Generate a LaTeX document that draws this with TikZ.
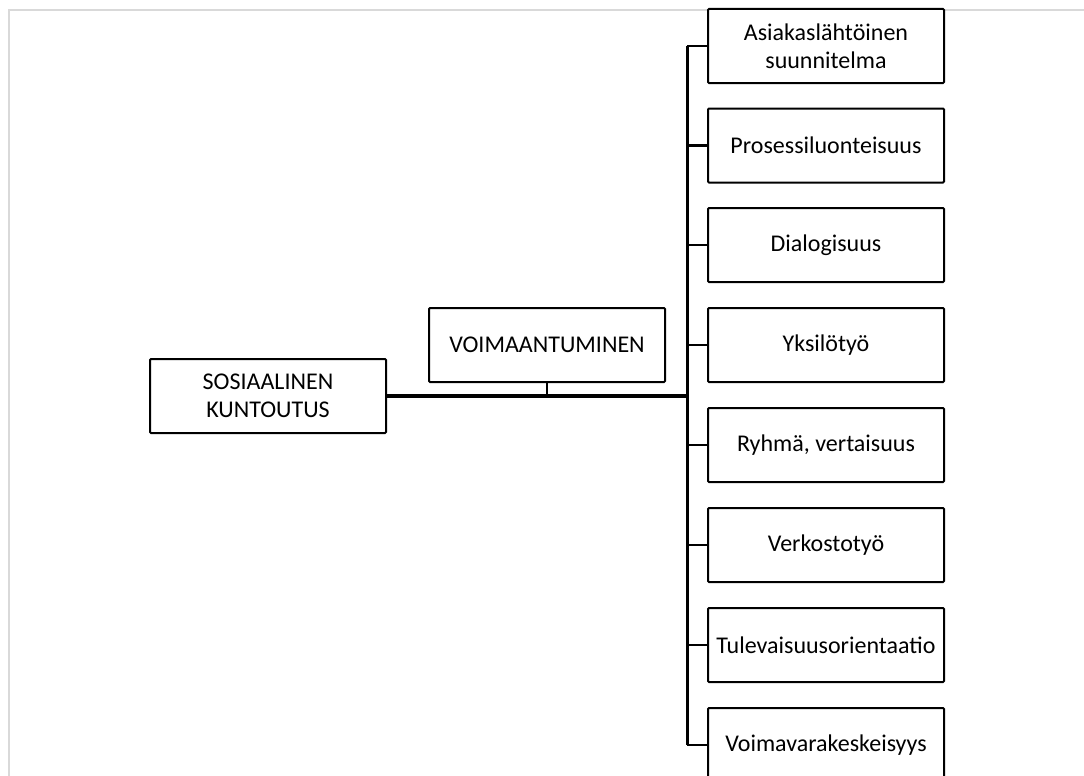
\documentclass[tikz,border=0pt]{standalone}
\usepackage{fontspec}
\setmainfont{Carlito}
\begin{document}
\begin{tikzpicture}[x=1pt,y=-1pt,
  box/.style={draw=black,line width=2pt,fill=white,rounded corners=1pt,
    minimum width=236pt,minimum height=74pt,inner sep=0pt,align=center,
    font=\fontsize{24}{28}\selectfont},
  spine/.style={line width=3pt},
  tick/.style={line width=2.5pt},
  frame/.style={draw=black!15,line width=2pt}]
\useasboundingbox (0,0) rectangle (1084,776);
\clip (0,0) rectangle (1084,776);
\draw[frame] (8.5,776) -- (8.5,10) -- (1084,10);
\node[box] (sk) at (268,396) {SOSIAALINEN\\KUNTOUTUS};
\node[box] (vo) at (547,345) {VOIMAANTUMINEN};
\node[box] (r1) at (826,46) {Asiakaslähtöinen\\suunnitelma};
\node[box] (r2) at (826,145.5) {Prosessiluonteisuus};
\node[box] (r3) at (826,245) {Dialogisuus};
\node[box] (r4) at (826,345) {Yksilötyö};
\node[box] (r5) at (826,445) {Ryhmä, vertaisuus};
\node[box] (r6) at (826,545) {Verkostotyö};
\node[box] (r7) at (826,645) {Tulevaisuusorientaatio};
\node[box] (r8) at (826,745) {Voimavarakeskeisyys};
\coordinate (top) at (687,46);
\coordinate (bot) at (687,745);
\draw[spine] (top) -- (bot);
\draw[line width=3.3pt] (sk.east) -- (sk.east -| top);
\draw[line width=2pt] (vo.south) -- (vo.south |- sk.east);
\foreach \r in {r1,r2,r3,r4,r5,r6,r7,r8}
  \draw[tick] (\r.west) -- (\r.west -| top);
\end{tikzpicture}
\end{document}
